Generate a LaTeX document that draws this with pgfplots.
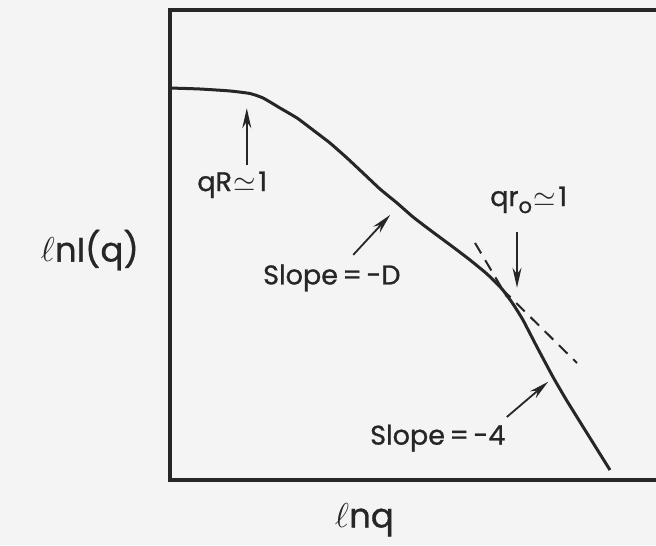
\documentclass[border=0pt]{standalone}
\usepackage{fontspec}
\setmainfont{Poppins}[FakeBold=0.9]
\usepackage{pgfplots}
\pgfplotsset{compat=1.18}
\usetikzlibrary{arrows.meta}

\definecolor{ink}{gray}{0.15}
\definecolor{paper}{gray}{0.955}

\tikzset{
  annot/.style={font=\fontsize{13.5}{15}\selectfont, text=ink},
  arr/.style={ink, line width=0.9pt, -{Stealth[length=10pt,width=4.5pt]}},
}
\newcommand{\apx}{\kern0.05em$\simeq$\kern0.1em}
\newcommand{\sub}[1]{\raisebox{-3.5pt}{\fontsize{10.5}{11}\selectfont #1}}

\begin{document}
\begin{tikzpicture}
% page background
\fill[paper] (-85pt,-32.5pt) rectangle (243pt,240pt);
\useasboundingbox (-85pt,-32.5pt) rectangle (243pt,240pt);
\begin{axis}[
  at={(0,0)}, anchor=south west,
  scale only axis, width=243pt, height=235pt,
  xmin=0, xmax=10, ymin=0, ymax=10,
  axis line style={draw=none}, ticks=none,
  clip=false,
  xlabel={$\ell$nq}, ylabel={$\ell$nI(q)},
  every axis x label/.style={at={(rel axis cs:0.40,-0.085)}, anchor=center, font=\fontsize{17}{20}\selectfont, text=ink},
  every axis y label/.style={at={(rel axis cs:-0.165,0.489)}, anchor=center, font=\fontsize{17}{20}\selectfont, text=ink},
]
% frame: left, top and bottom edges
\draw[ink, line width=1.7pt] (rel axis cs:1,1) -- (rel axis cs:0,1) -- (rel axis cs:0,0) -- (rel axis cs:1,0);

% scattering curve ln I(q) vs ln q
\addplot[ink, line width=1.5pt, smooth, tension=0.3] coordinates {
  (0,8.340) (0.617,8.319) (1.235,8.277) (1.646,8.223) (1.914,8.128)
  (2.263,7.915) (2.613,7.702) (2.942,7.447) (3.292,7.170) (3.642,6.851)
  (3.971,6.532) (4.321,6.191) (4.671,5.894) (5.000,5.596) (5.350,5.319)
  (5.823,4.957) (6.173,4.681) (6.523,4.383) (6.831,4.064) (7.058,3.745)
  (7.263,3.404) (7.551,2.830) (7.881,2.191) (8.169,1.681) (8.642,0.894)
  (9.053,0.213)
};

% tangent extensions of the two power-law regimes
\addplot[ink, line width=1pt, dash pattern=on 6pt off 4pt] coordinates {(6.276,5.043) (6.934,3.894)};
\addplot[ink, line width=1pt, dash pattern=on 6pt off 4pt] coordinates {(6.831,4.064) (8.374,2.489)};

% annotations
\draw[arr] (axis cs:1.58,6.70) -- (axis cs:1.58,7.91);
\node[annot] at (axis cs:1.28,6.28) {qR\apx 1};

\draw[arr] (axis cs:3.77,4.79) -- (axis cs:4.53,5.64);
\node[annot] at (axis cs:3.33,4.30) {Slope\,=\,-D};

\draw[arr] (axis cs:7.14,5.28) -- (axis cs:7.14,4.09);
\node[annot] at (axis cs:7.38,5.96) {qr\sub{o}\apx 1};

\draw[arr] (axis cs:6.93,1.34) -- (axis cs:7.78,2.09);
\node[annot] at (axis cs:5.51,0.89) {Slope\,=\,-4};
\end{axis}
\end{tikzpicture}
\end{document}
